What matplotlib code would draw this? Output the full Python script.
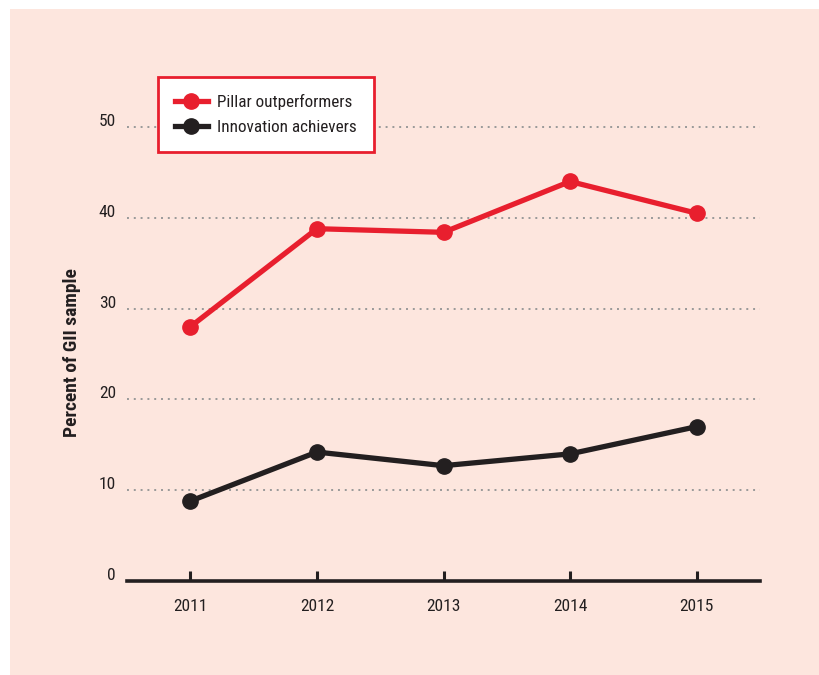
import matplotlib
matplotlib.use("Agg")
import matplotlib.pyplot as plt
from matplotlib.patches import Rectangle
from matplotlib.lines import Line2D

plt.rcParams['font.family'] = ['Roboto Condensed', 'DejaVu Sans Condensed', 'Liberation Sans', 'DejaVu Sans']

years = [2011, 2012, 2013, 2014, 2015]
pillar = [28.0, 38.8, 38.4, 44.0, 40.5]
achievers = [8.8, 14.2, 12.7, 14.0, 17.0]
yticks = [0, 10, 20, 30, 40, 50]
series_names = ['Pillar outperformers', 'Innovation achievers']

RED = '#e81f2e'
BLACK = '#231f20'
PINK = '#fde6de'
TXT = '#231f20'

W, H = 819, 675
fig = plt.figure(figsize=(W / 100, H / 100), dpi=100, facecolor='white')

# pink panel behind everything
fig.patches.append(Rectangle((10 / W, 0), 1 - 10 / W, 1 - 9 / H,
                             transform=fig.transFigure, facecolor=PINK,
                             edgecolor='none', zorder=-10))

left, right = 127 / W, 760 / W
bottom = (H - 581) / H
top = (H - 81.6) / H
ax = fig.add_axes([left, bottom, right - left, top - bottom])
ax.patch.set_alpha(0)
ax.set_xlim(2010.5, 2015.5)
ax.set_ylim(0, 55)

for s in ['top', 'right', 'left']:
    ax.spines[s].set_visible(False)
ax.spines['bottom'].set_linewidth(2.6)
ax.spines['bottom'].set_color(BLACK)

# dotted gridlines
for v in yticks[1:]:
    ax.axhline(v, color='#999999', lw=1.4, linestyle=(0, (1, 2.5)), zorder=1)

ax.plot(years, pillar, color=RED, lw=3.8, marker='o', ms=11, zorder=3,
        label=series_names[0])
ax.plot(years, achievers, color=BLACK, lw=3.8, marker='o', ms=11, zorder=3,
        label=series_names[1])

ax.set_xticks(years)
ax.set_xticklabels([str(y) for y in years], fontsize=12.5, color=TXT)
ax.tick_params(axis='x', direction='in', length=7, width=2.2, color=BLACK, pad=13)
ax.set_yticks([])

for v in yticks:
    ax.annotate(str(v), xy=(0, v), xycoords=('axes fraction', 'data'),
                xytext=(-8, 4), textcoords='offset points',
                ha='right', va='center', fontsize=12.5, color=TXT)

fig.text(72 / W, 1 - 353 / H, 'Percent of GII sample', rotation=90,
         ha='center', va='center', fontsize=14, fontweight='bold', color=TXT)

handles = [Line2D([], [], color=RED, lw=3.8, marker='o', ms=11),
           Line2D([], [], color=BLACK, lw=3.8, marker='o', ms=11)]
leg = ax.legend(handles, series_names, loc='upper left',
                bbox_to_anchor=(158 / W, 1 - 77 / H), bbox_transform=fig.transFigure,
                borderaxespad=0, fancybox=False, frameon=True, fontsize=12.3,
                handlelength=1.9, handletextpad=0.55, borderpad=1.0,
                labelspacing=0.6)
leg.get_frame().set_edgecolor(RED)
leg.get_frame().set_linewidth(2)
leg.get_frame().set_facecolor('white')
leg.get_frame().set_alpha(1)
for t in leg.get_texts():
    t.set_color(TXT)

fig.savefig('out.png', dpi=100, facecolor='white')
